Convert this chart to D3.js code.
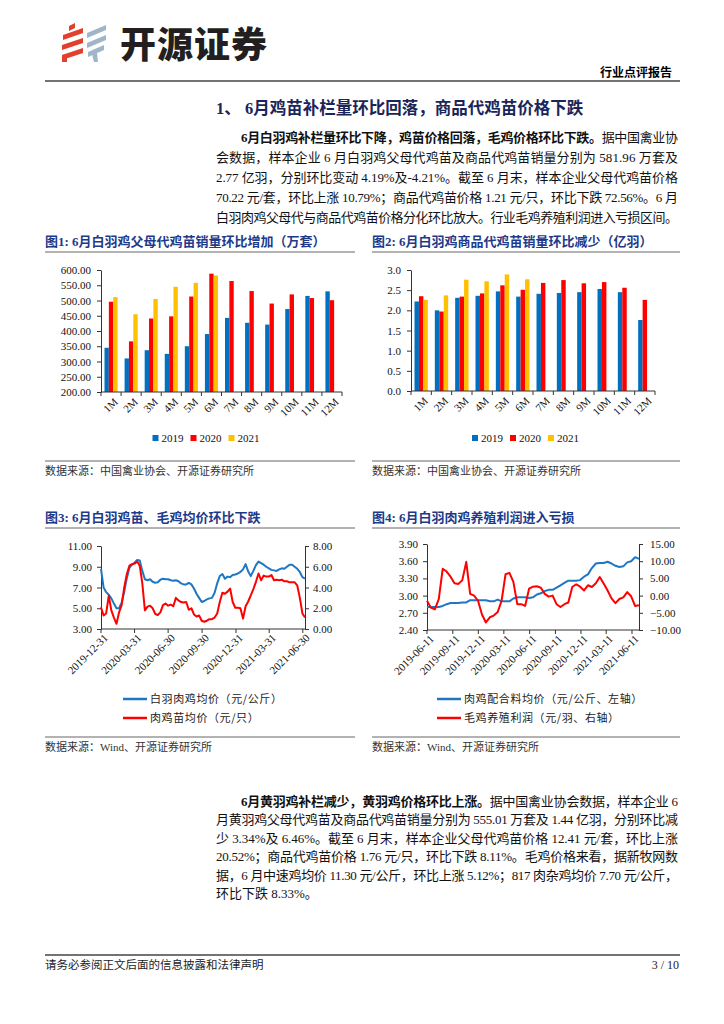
<!DOCTYPE html>
<html>
<head>
<meta charset="utf-8">
<script src="https://cdn.jsdelivr.net/npm/d3@7"></script>
<style>
  body { margin: 0; background: #fff; }
</style>
</head>
<body>
<div id="page"></div>
<script>
// ---- data ----
const months = ["1M", "2M", "3M", "4M", "5M", "6M", "7M", "8M", "9M", "10M", "11M", "12M"];
const years = ["2019", "2020", "2021"];

// 图1 父母代鸡苗销量（万套）
const parent2019 = [345, 310, 337, 325, 350, 390, 443, 427, 421, 472, 515, 530];
const parent2020 = [496, 366, 441, 448, 513, 588, 564, 531, 490, 520, 508, 501];
const parent2021 = [511, 455, 505, 545, 558, 582, null, null, null, null, null, null];
const parentTicks = [200, 250, 300, 350, 400, 450, 500, 550, 600];

// 图2 商品代鸡苗销量（亿羽）
const chick2019 = [2.22, 2.00, 2.31, 2.36, 2.47, 2.34, 2.41, 2.43, 2.45, 2.53, 2.45, 1.76];
const chick2020 = [2.35, 1.97, 2.34, 2.42, 2.62, 2.51, 2.68, 2.75, 2.67, 2.70, 2.56, 2.26];
const chick2021 = [2.26, 2.37, 2.76, 2.72, 2.89, 2.77, null, null, null, null, null, null];
const chickTicks = [0, 0.5, 1.0, 1.5, 2.0, 2.5, 3.0];

// 图3 周度价格，自 2019-12-31 起
const priceStart = "2019-12-31";
const broilerPrice = [
  8.8, 7.0, 6.55, 6.3, 5.95, 5.45, 5.0, 5.0, 5.55, 6.6,
  7.9, 8.9, 9.2, 9.4, 9.65, 9.6, 8.6, 7.8, 7.7, 7.8,
  7.55, 7.45, 7.5, 7.75, 7.85, 7.8, 7.8, 7.7, 7.65, 7.7,
  7.6, 7.4, 7.3, 7.3, 7.45, 7.3, 6.9, 6.4, 6.0, 5.6,
  5.7, 5.85, 5.95, 6.0, 6.5, 7.4, 8.1, 8.3, 7.85, 8.05,
  8.0, 8.2, 8.25, 8.35, 8.5, 8.75, 9.25, 8.55, 8.1, 8.6,
  9.15, 9.5, 9.35, 9.2, 9.0, 8.85, 8.7, 8.65, 8.6, 8.75,
  8.85, 8.8, 9.0, 9.2, 9.2, 9.0, 8.8, 8.5, 8.0, 7.85
];
const chickPrice = [
  2.1, 1.3, 1.5, 3.2, 1.8, 1.1, 0.5, 1.6, 2.3, 4.0,
  5.3, 6.1, 6.25, 6.3, 6.5, 6.1, 4.4, 1.8, 2.15, 2.25,
  2.0, 1.45, 1.35, 1.6, 2.3, 2.45, 2.25, 2.35, 2.2, 3.0,
  2.75, 2.6, 2.55, 2.6, 1.85, 2.0, 1.4, 1.2, 1.3, 0.8,
  0.7, 0.8, 0.95, 0.95, 1.1, 1.5, 2.6, 3.5, 3.4, 3.6,
  3.9, 2.6, 2.05, 2.05, 2.0, 1.0, 2.2, 2.65, 3.25, 3.85,
  4.55, 5.35, 4.7, 5.15, 5.05, 5.05, 5.2, 4.7, 4.75, 4.7,
  4.75, 4.6, 4.6, 4.5, 4.5, 4.5, 4.2, 3.0, 1.5, 1.1
];
const priceLeftTicks = [3, 5, 7, 9, 11];
const priceRightTicks = [0, 2, 4, 6, 8];
const priceDates = ["2019-12-31", "2020-03-31", "2020-06-30", "2020-09-30", "2020-12-31", "2021-03-31", "2021-06-30"];

// 图4 双周度，自 2019-06-11 起
const feedStart = "2019-06-11";
const feedPrice = [
  2.80, 2.80, 2.80, 2.80, 2.82, 2.85, 2.87, 2.87, 2.87, 2.88,
  2.88, 2.92, 2.92, 2.92, 2.92, 2.92, 2.90, 2.90, 2.93, 2.90,
  2.90, 2.90, 2.95, 2.97, 2.97, 2.97, 2.96, 2.97, 3.02, 3.04,
  3.08, 3.10, 3.10, 3.14, 3.18, 3.22, 3.26, 3.26, 3.26, 3.27,
  3.33, 3.37, 3.48, 3.56, 3.57, 3.57, 3.59, 3.56, 3.52, 3.50,
  3.51, 3.58, 3.60, 3.67, 3.64
];
const farmProfit = [
  -1.5, -3.5, -4.0, -1.0, 7.8, 7.0, 5.5, 3.6, 3.4, 4.5,
  9.8, 0.5, 0.0, -1.5, -5.5, -7.8, -6.3, -5.8, -4.8, -1.5,
  6.2, 6.6, 4.0, -2.5, -2.5, -3.0, 2.0, 2.6, 2.7, 2.3,
  0.5, -0.3, 0.0, -2.5, -3.3, -2.5, -2.0, 2.5, 3.3, 2.6,
  1.5, 3.0, 2.5, 3.6, 5.4, 3.5, 1.5, -0.8, -2.2, -1.0,
  -0.5, 1.0, -0.2, -3.0, -2.8
];
const feedLeftTicks = [2.4, 2.7, 3.0, 3.3, 3.6, 3.9];
const feedRightTicks = [-10, -5, 0, 5, 10, 15];
const feedDates = ["2019-06-11", "2019-09-11", "2019-12-11", "2020-03-11", "2020-06-11", "2020-09-11", "2020-12-11", "2021-03-11", "2021-06-11"];

// 正文
const para1 = [
  ["6月白羽鸡补栏量环比下降，鸡苗价格回落，毛鸡价格环比下跌。", "据中国禽业协"],
  ["", "会数据，样本企业 6 月白羽鸡父母代鸡苗及商品代鸡苗销量分别为 581.96 万套及"],
  ["", "2.77 亿羽，分别环比变动 4.19%及-4.21%。截至 6 月末，样本企业父母代鸡苗价格"],
  ["", "70.22 元/套，环比上涨 10.79%；商品代鸡苗价格 1.21 元/只，环比下跌 72.56%。6 月"],
  ["", "白羽肉鸡父母代与商品代鸡苗价格分化环比放大。行业毛鸡养殖利润进入亏损区间。"]
];
const para2 = [
  ["6月黄羽鸡补栏减少，黄羽鸡价格环比上涨。", "据中国禽业协会数据，样本企业 6"],
  ["", "月黄羽鸡父母代鸡苗及商品代鸡苗销量分别为 555.01 万套及 1.44 亿羽，分别环比减"],
  ["", "少 3.34%及 6.46%。截至 6 月末，样本企业父母代鸡苗价格 12.41 元/套，环比上涨"],
  ["", "20.52%；商品代鸡苗价格 1.76 元/只，环比下跌 8.11%。毛鸡价格来看，据新牧网数"],
  ["", "据，6 月中速鸡均价 11.30 元/公斤，环比上涨 5.12%；817 肉杂鸡均价 7.70 元/公斤，"],
  ["", "环比下跌 8.33%。"]
];

// ---- drawing ----
const SERIF = "'Liberation Serif','Noto Sans CJK SC',serif";
const CJK = "'Noto Sans CJK SC',sans-serif";
const NAVY = "#1d3a8a";
const barColors = ["#0070C0", "#FF0000", "#FFC000"];
const parseDate = d3.timeParse("%Y-%m-%d");

const svg = d3.select("#page").append("svg")
  .attr("width", 724).attr("height", 1024)
  .style("font-family", SERIF);
svg.append("rect").attr("width", 724).attr("height", 1024).attr("fill", "#fff");

// logo
const logo = svg.append("g");
[[69, 26, 75, 23], [63, 35, 83, 28], [62, 45, 83, 38], [62, 55, 83, 48]].forEach(s => {
  logo.append("polygon")
    .attr("points", `${s[0]},${s[1]} ${s[2]},${s[3]} ${s[2]},${s[3] + 5} ${s[0]},${s[1] + 5}`)
    .attr("fill", "#e0402c");
});
logo.append("polygon").attr("points", "62,55 67,54 67,62 62,62").attr("fill", "#e0402c");
[[87, 33, 106, 25], [87, 43, 106, 35], [88, 52, 104, 45]].forEach(s => {
  logo.append("polygon")
    .attr("points", `${s[0]},${s[1]} ${s[2]},${s[3]} ${s[2]},${s[3] + 5} ${s[0]},${s[1] + 5}`)
    .attr("fill", "#9fb6c8");
});
logo.append("polygon").attr("points", "92,54 97,53 98,62 94,62").attr("fill", "#9fb6c8");
svg.append("text").attr("x", 120).attr("y", 58)
  .style("font-family", CJK).style("font-size", "36px").style("font-weight", 900)
  .attr("fill", "#231f20").attr("letter-spacing", 1).text("开源证券");

svg.append("text").attr("x", 672).attr("y", 77).attr("text-anchor", "end")
  .style("font-family", CJK).style("font-size", "12px").style("font-weight", 700)
  .text("行业点评报告");
svg.append("line").attr("x1", 45).attr("x2", 680).attr("y1", 81).attr("y2", 81)
  .attr("stroke", "#444").attr("stroke-width", 1.6);

// section heading
svg.append("text").attr("x", 216).attr("y", 114)
  .style("font-size", "16.5px").style("font-weight", 700).attr("fill", "#1a2659")
  .text("1、 6月鸡苗补栏量环比回落，商品代鸡苗价格下跌");

function paragraph(lines, y0, lh) {
  lines.forEach((ln, i) => {
    const x = i === 0 ? 241 : 216;
    const t = svg.append("text").attr("x", x).attr("y", y0 + i * lh)
      .style("font-size", "13px").attr("fill", "#111");
    if (ln[0]) t.append("tspan").style("font-weight", 700).text(ln[0]);
    t.append("tspan").text(ln[1]);
    if (i < lines.length - 1 || lines.length === 5) {
      t.attr("textLength", 678 - x).attr("lengthAdjust", "spacing");
    }
  });
}
paragraph(para1, 142, 20);
paragraph(para2, 806, 18.4);

// chart titles, rules and sources
function frame(x0, x1, titleY, title, srcY, src) {
  svg.append("text").attr("x", x0).attr("y", titleY)
    .style("font-size", "13px").style("font-weight", 700).attr("fill", NAVY).text(title);
  svg.append("line").attr("x1", x0).attr("x2", x1).attr("y1", titleY + 6).attr("y2", titleY + 6)
    .attr("stroke", "#666").attr("stroke-width", 1);
  svg.append("line").attr("x1", x0).attr("x2", x1).attr("y1", srcY).attr("y2", srcY)
    .attr("stroke", "#666").attr("stroke-width", 1);
  svg.append("text").attr("x", x0).attr("y", srcY + 14)
    .style("font-size", "11px").attr("fill", "#333").text(src);
}
frame(45, 355, 246, "图1: 6月白羽鸡父母代鸡苗销量环比增加（万套）", 461, "数据来源：中国禽业协会、开源证券研究所");
frame(372, 680, 246, "图2: 6月白羽鸡商品代鸡苗销量环比减少（亿羽）", 461, "数据来源：中国禽业协会、开源证券研究所");
frame(45, 355, 522, "图3: 6月白羽鸡苗、毛鸡均价环比下跌", 737, "数据来源：Wind、开源证券研究所");
frame(372, 680, 522, "图4: 6月白羽肉鸡养殖利润进入亏损", 737, "数据来源：Wind、开源证券研究所");

function styleAxis(g) {
  g.selectAll("path,line").attr("stroke", "#333");
  g.selectAll("text").style("font-family", SERIF).style("font-size", "11px").attr("fill", "#111");
}

function barChart(cfg) {
  const g = svg.append("g");
  const x0 = d3.scaleBand().domain(months).range([cfg.left, cfg.right]);
  const x1 = d3.scaleBand().domain(years).range([3.5, x0.bandwidth() - 3.5]);
  const y = d3.scaleLinear().domain(cfg.domain).range([cfg.bottom, cfg.top]);

  cfg.series.forEach((vals, i) => {
    g.append("g").selectAll("rect")
      .data(vals.map((v, j) => ({ m: months[j], v })).filter(d => d.v != null))
      .join("rect")
      .attr("x", d => x0(d.m) + x1(years[i]))
      .attr("width", x1.bandwidth())
      .attr("y", d => y(d.v))
      .attr("height", d => cfg.bottom - y(d.v))
      .attr("fill", barColors[i]);
  });

  g.append("g").attr("transform", `translate(${cfg.left},0)`)
    .call(d3.axisLeft(y).tickValues(cfg.ticks).tickFormat(d3.format(cfg.fmt))
      .tickSize(4).tickSizeOuter(0).tickPadding(6))
    .call(styleAxis);

  const xa = g.append("g");
  xa.append("line").attr("x1", cfg.left).attr("x2", cfg.right)
    .attr("y1", cfg.bottom).attr("y2", cfg.bottom).attr("stroke", "#333");
  xa.selectAll(".tk").data(months.concat(["end"])).join("line")
    .attr("x1", d => d === "end" ? cfg.right : x0(d))
    .attr("x2", d => d === "end" ? cfg.right : x0(d))
    .attr("y1", cfg.bottom).attr("y2", cfg.bottom + 4).attr("stroke", "#333");
  xa.selectAll("text").data(months).join("text")
    .attr("transform", d => `translate(${x0(d) + x0.bandwidth() / 2 + 2},${cfg.bottom + 5}) rotate(-45)`)
    .attr("text-anchor", "end").attr("dy", "0.71em")
    .style("font-size", "11px").attr("fill", "#111").text(d => d);

  years.forEach((yr, i) => {
    const lx = cfg.legendX + i * 38;
    g.append("rect").attr("x", lx).attr("y", 435).attr("width", 6).attr("height", 6).attr("fill", barColors[i]);
    g.append("text").attr("x", lx + 9).attr("y", 442).style("font-size", "11px").attr("fill", "#111").text(yr);
  });
}

barChart({ left: 101, right: 342, top: 270, bottom: 392, domain: [200, 600],
  ticks: parentTicks, fmt: ".2f", series: [parent2019, parent2020, parent2021], legendX: 152.5 });
barChart({ left: 411, right: 655, top: 270, bottom: 391, domain: [0, 3],
  ticks: chickTicks, fmt: ".1f", series: [chick2019, chick2020, chick2021], legendX: 472 });

function lineChart(cfg) {
  const g = svg.append("g");
  const start = parseDate(cfg.start);
  const dates = cfg.left1.map((_, i) => d3.timeDay.offset(start, i * cfg.step));
  const x = d3.scaleTime().domain(d3.extent(dates)).range([cfg.left, cfg.right]);
  const yL = d3.scaleLinear().domain(cfg.lDomain).range([cfg.bottom, cfg.top]);
  const yR = d3.scaleLinear().domain(cfg.rDomain).range([cfg.bottom, cfg.top]);

  g.append("g").attr("transform", `translate(${cfg.left},0)`)
    .call(d3.axisLeft(yL).tickValues(cfg.lTicks).tickFormat(d3.format(".2f"))
      .tickSize(4).tickSizeOuter(0).tickPadding(5))
    .call(styleAxis);
  g.append("g").attr("transform", `translate(${cfg.right},0)`)
    .call(d3.axisRight(yR).tickValues(cfg.rTicks).tickFormat(d3.format(".2f"))
      .tickSize(4).tickSizeOuter(0).tickPadding(cfg.rPad))
    .call(styleAxis);

  const ticks = cfg.tickDates.map(parseDate);
  const xa = g.append("g");
  xa.append("line").attr("x1", cfg.left).attr("x2", cfg.right)
    .attr("y1", cfg.bottom).attr("y2", cfg.bottom).attr("stroke", "#333");
  xa.selectAll("line.tk").data(ticks).join("line").attr("class", "tk")
    .attr("x1", d => x(d)).attr("x2", d => x(d))
    .attr("y1", cfg.bottom).attr("y2", cfg.bottom + 4).attr("stroke", "#333");
  xa.selectAll("text").data(cfg.tickDates).join("text")
    .attr("transform", d => `translate(${x(parseDate(d)) + 2},${cfg.bottom + 4}) rotate(-45)`)
    .attr("text-anchor", "end").attr("dy", "0.71em")
    .style("font-size", "11px").attr("fill", "#111").text(d => d);

  const series = [
    { vals: cfg.left1, y: yL, color: "#1f77c4", name: cfg.names[0] },
    { vals: cfg.right1, y: yR, color: "#ff0000", name: cfg.names[1] }
  ];
  series.forEach((s, i) => {
    g.append("path").datum(s.vals)
      .attr("fill", "none").attr("stroke", s.color).attr("stroke-width", 2)
      .attr("stroke-linejoin", "round")
      .attr("d", d3.line().x((d, j) => x(dates[j])).y(d => s.y(d)));
    const ly = 699 + i * 19;
    g.append("line").attr("x1", cfg.legendX).attr("x2", cfg.legendX + 24)
      .attr("y1", ly).attr("y2", ly).attr("stroke", s.color).attr("stroke-width", 2.5);
    g.append("text").attr("x", cfg.legendX + 27).attr("y", ly + 4)
      .style("font-family", CJK).style("font-size", "11px").attr("letter-spacing", 0.6)
      .attr("fill", "#222").text(s.name);
  });
}

lineChart({ left: 101, right: 305, top: 546, bottom: 629, start: priceStart, step: 7,
  left1: broilerPrice, right1: chickPrice, lDomain: [3, 11], rDomain: [0, 8],
  lTicks: priceLeftTicks, rTicks: priceRightTicks, rPad: 4, tickDates: priceDates,
  names: ["白羽肉鸡均价（元/公斤）", "肉鸡苗均价（元/只）"], legendX: 123 });

lineChart({ left: 427, right: 639, top: 544, bottom: 630, start: feedStart, step: 14,
  left1: feedPrice, right1: farmProfit, lDomain: [2.4, 3.9], rDomain: [-10, 15],
  lTicks: feedLeftTicks, rTicks: feedRightTicks, rPad: 7, tickDates: feedDates,
  names: ["肉鸡配合料均价（元/公斤、左轴）", "毛鸡养殖利润（元/羽、右轴）"], legendX: 437 });

// footer
svg.append("line").attr("x1", 45).attr("x2", 680).attr("y1", 955).attr("y2", 955)
  .attr("stroke", "#444").attr("stroke-width", 1.6);
svg.append("text").attr("x", 45).attr("y", 969)
  .style("font-family", CJK).style("font-size", "11.5px").attr("fill", "#222")
  .text("请务必参阅正文后面的信息披露和法律声明");
svg.append("text").attr("x", 679).attr("y", 969).attr("text-anchor", "end")
  .style("font-size", "12px").attr("fill", "#222").text("3 / 10");
</script>
</body>
</html>
